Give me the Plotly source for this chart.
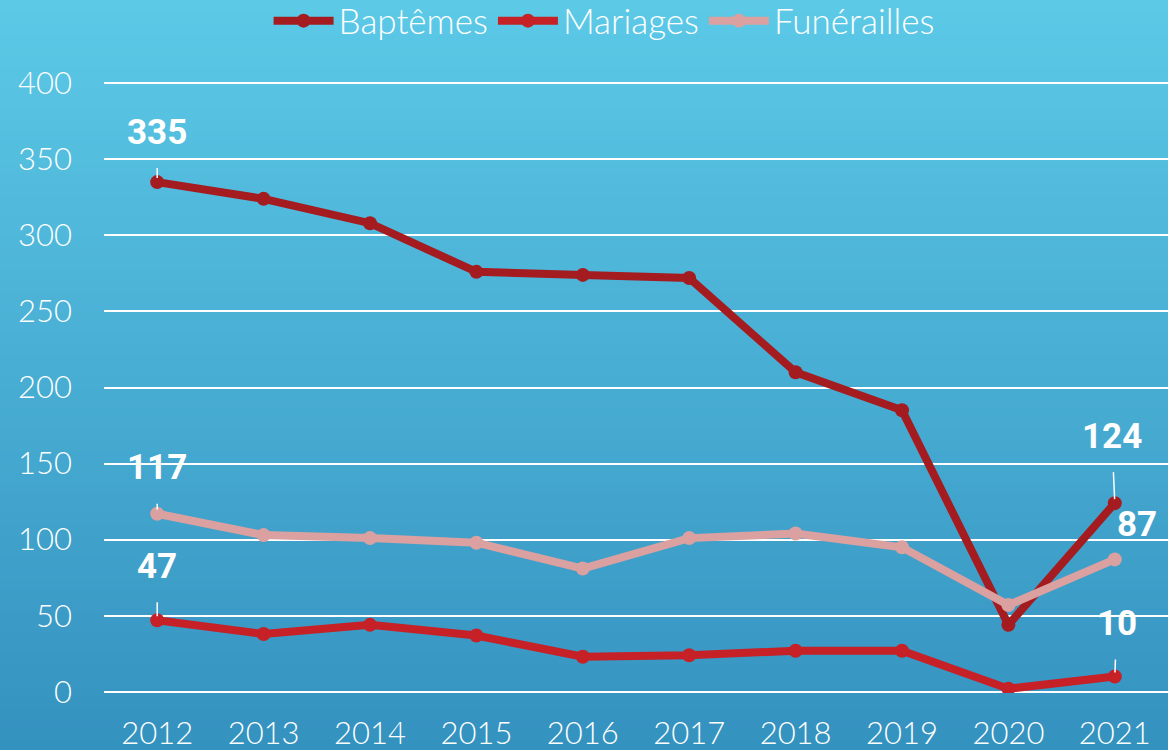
import plotly.graph_objects as go

# ---------------------------------------------------------------------------
# Data
# ---------------------------------------------------------------------------
years = ["2012", "2013", "2014", "2015", "2016", "2017", "2018", "2019", "2020", "2021"]
baptemes = [335, 324, 308, 276, 274, 272, 210, 185, 44, 124]
mariages = [47, 38, 44, 37, 23, 24, 27, 27, 2, 10]
funerailles = [117, 103, 101, 98, 81, 101, 104, 95, 57, 87]
y_ticks = [0, 50, 100, 150, 200, 250, 300, 350, 400]

FONT = "Lato, 'Open Sans', sans-serif"

fig = go.Figure()

series = [
    ("Baptêmes", baptemes, "#a51c20"),
    ("Mariages", mariages, "#c62127"),
    ("Funérailles", funerailles, "#dba0a0"),
]
for name, vals, color in series:
    fig.add_trace(go.Scatter(
        x=years, y=vals, name=name, mode="lines+markers",
        line=dict(color=color, width=8),
        marker=dict(color=color, size=14),
    ))

# vertical gradient background built from thin stripes
top = (94, 204, 233)
bottom = (49, 141, 188)
n = 80
for i in range(n):
    t = i / (n - 1)
    c = tuple(round(top[k] + (bottom[k] - top[k]) * t) for k in range(3))
    y1 = 1.2 - i * (1.4 / n)
    fig.add_shape(
        type="rect", xref="paper", yref="paper", layer="below",
        x0=-0.2, x1=1.2, y0=y1 - 1.4 / n - 0.002, y1=y1,
        fillcolor="rgb(%d,%d,%d)" % c, line=dict(width=0),
    )

# end-point value labels: (series, index, ax, ay, leader)
labels = [
    (baptemes, 0, 0, -50, True),
    (funerailles, 0, 0, -46, True),
    (mariages, 0, 0, -54, True),
    (baptemes, 9, -3, -67, True),
    (funerailles, 9, 22, -35, False),
    (mariages, 9, 2, -53, True),
]
for vals, idx, ax, ay, leader in labels:
    fig.add_annotation(
        x=idx, y=vals[idx], xref="x", yref="y",
        text="<b>%d</b>" % vals[idx],
        showarrow=True, arrowhead=0,
        arrowwidth=1.5, arrowcolor="white" if leader else "rgba(0,0,0,0)",
        ax=ax, ay=ay, standoff=4, startstandoff=14,
        font=dict(family="Roboto, sans-serif", size=35, color="white"),
    )

fig.update_layout(
    width=1168, height=750,
    paper_bgcolor="#48b0d6",
    plot_bgcolor="rgba(0,0,0,0)",
    margin=dict(l=104, r=0, t=82, b=57, autoexpand=False),
    font=dict(family=FONT, color="white", size=30, weight=300),
    legend=dict(
        orientation="h", x=0.47, xanchor="center", y=1.1, yanchor="middle",
        font=dict(size=35, color="white", weight=300), bgcolor="rgba(0,0,0,0)",
        itemwidth=60,
    ),
    xaxis=dict(
        type="category", range=[-0.5, 9.5], showgrid=False, zeroline=False,
        showline=False, ticks="", ticklabelstandoff=19, automargin=False,
        tickfont=dict(size=31, color="white", weight=300),
    ),
    yaxis=dict(
        range=[-0.8, 400.8], tickvals=y_ticks, showgrid=True,
        gridcolor="white", gridwidth=2, zeroline=False, showline=False,
        ticks="", ticklabelstandoff=31, automargin=False,
        tickfont=dict(size=31, color="white", weight=300),
    ),
)

# drop the browser's default body margin so the figure fills the window
fig.write_html(
    "out.html",
    config={"displayModeBar": False},
    post_script="document.body.style.margin='0';",
)
